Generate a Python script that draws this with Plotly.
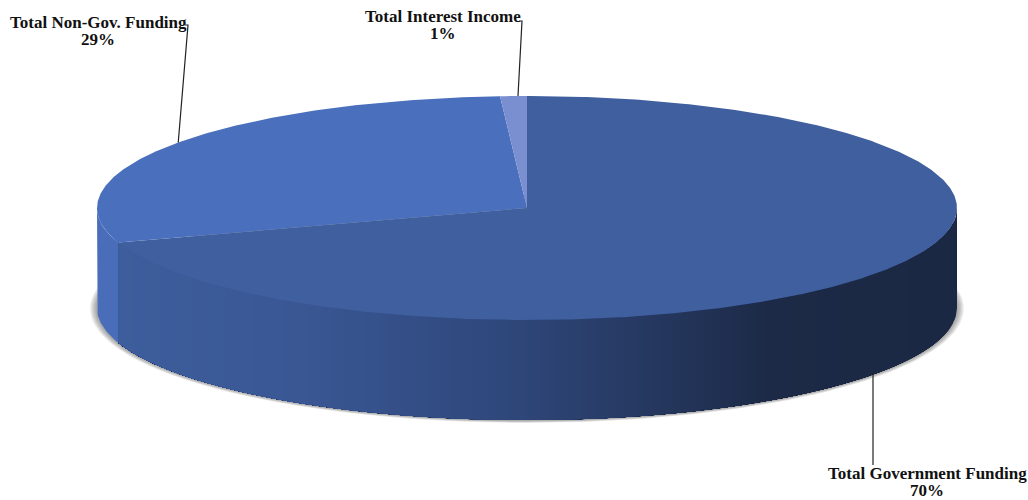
import numpy as np
import plotly.graph_objects as go

# Funding shares, listed clockwise from twelve o'clock
categories = ["Total Government Funding", "Total Non-Gov. Funding", "Total Interest Income"]
shares = [70, 29, 1]

TOP_COLORS = ["#3f5f9f", "#4a6fbc", "#7a8fd0"]
SIDE_LIGHT = "#4a6dba"
WIDTH, HEIGHT = 1028, 500

# Disc geometry on a pixel-sized axis system
CX, CY, RX, RY, DEPTH = 527.0, 208.0, 430.0, 112.0, 100.0

# Horizontal shading of the front wall: (x position, rgb)
WALL_STOPS = [(116, (61, 93, 156)), (300, (58, 87, 148)), (500, (47, 72, 124)),
              (650, (38, 56, 96)), (770, (28, 42, 71)), (957, (27, 40, 67))]

# Centre of each label's two text lines, where its leader line ends,
# and the rim angle the leader starts from
LABEL_X = [927, 98, 443]
LABEL_LINE_Y = [(473, 490), (22, 39), (16, 33)]
LABEL_ELBOW = [(873, 465), (188, 25), (522, 21)]
LEADER_ANGLE = [126.0, 305.8, 358.8]


def rim(t_deg, dy=0.0):
    t = np.radians(t_deg)
    return CX + RX * np.sin(t), CY - RY * np.cos(t) + dy


def poly(xs, ys, color):
    return go.Scatter(x=xs, y=ys, mode="lines", fill="toself", fillcolor=color,
                      line=dict(width=0), hoverinfo="skip", showlegend=False)


def wall_color(x):
    px = [s[0] for s in WALL_STOPS]
    rgb = [np.interp(x, px, [s[1][i] for s in WALL_STOPS]) for i in range(3)]
    return "rgb(%d,%d,%d)" % tuple(round(c) for c in rgb)


fig = go.Figure()

# Soft drop shadow under the disc, built from stacked translucent ellipses
theta = np.radians(np.linspace(0, 360, 361))
for grow in range(7, 0, -1):
    fig.add_trace(go.Scatter(
        x=CX + (RX + grow) * np.sin(theta),
        y=CY + DEPTH + 0.5 + (RY + grow * 0.35) * np.cos(theta),
        mode="lines", fill="toself", fillcolor="rgba(70,70,70,0.08)", line=dict(width=0),
        hoverinfo="skip", showlegend=False))

# Slice boundaries in degrees, clockwise from the top
edges = np.concatenate([[0], np.cumsum(shares) / np.sum(shares) * 360.0])

# Front wall of the first slice: painted right to left, each band reaching to the
# wall's far end so the next band overlaps it and no seams appear between them
wall_to = min(270.0, edges[1])
band_x = np.arange(CX + RX, CX + RX * np.sin(np.radians(wall_to)), -4.0)
band_start = 180.0 - np.degrees(np.arcsin(np.clip((band_x - CX) / RX, -1, 1)))
for x0, t0 in zip(band_x, band_start):
    arc = np.linspace(t0, wall_to, 80)
    ax, ay = rim(arc)
    fig.add_trace(poly(np.r_[ax, ax[::-1], ax[0]], np.r_[ay, ay[::-1] + DEPTH, ay[0]],
                       wall_color(x0 - 2)))

# Short stretch of the second slice's wall at the far left
arc = np.linspace(edges[1], 270.0, 24)
ax, ay = rim(arc)
fig.add_trace(poly(np.r_[ax, ax[::-1], ax[0]], np.r_[ay, ay[::-1] + DEPTH, ay[0]], SIDE_LIGHT))

# Top faces
for i in range(len(shares)):
    arc = np.linspace(edges[i], edges[i + 1], max(int(edges[i + 1] - edges[i]) * 2, 6))
    ax, ay = rim(arc)
    fig.add_trace(poly(np.r_[CX, ax, CX], np.r_[CY, ay, CY], TOP_COLORS[i]))

# Leader lines and their two-line labels
annotations = []
for i, name in enumerate(categories):
    angle = LEADER_ANGLE[i]
    sx, sy = rim(angle, DEPTH if 90 < angle < 270 else 0.0)
    ex, ey = LABEL_ELBOW[i]
    if i == 0:
        sx = ex
    fig.add_trace(go.Scatter(x=[sx, ex, ex - 3 if i else ex], y=[sy, ey, ey], mode="lines",
                             line=dict(color="#222222", width=1.2), hoverinfo="skip",
                             showlegend=False))
    for text, ly in zip((name, f"{shares[i]}%"), LABEL_LINE_Y[i]):
        annotations.append(dict(x=LABEL_X[i], y=ly, xref="x", yref="y", showarrow=False,
                                text=f"<b>{text}</b>", borderpad=0,
                                font=dict(family="Liberation Serif", size=17, color="#111111")))

fig.update_layout(
    width=WIDTH, height=HEIGHT, margin=dict(l=0, r=0, t=0, b=0),
    paper_bgcolor="white", plot_bgcolor="white", annotations=annotations,
    xaxis=dict(range=[0, WIDTH], visible=False, fixedrange=True),
    yaxis=dict(range=[HEIGHT, 0], visible=False, fixedrange=True),
)
fig.write_html("out.html", config={"displayModeBar": False})
